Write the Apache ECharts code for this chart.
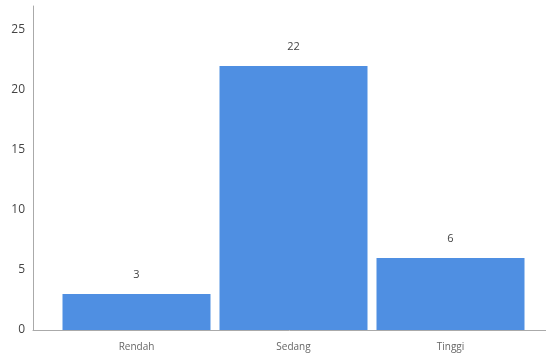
<!DOCTYPE html>
<html>
<head>
<meta charset="utf-8">
<script src="https://cdn.jsdelivr.net/npm/echarts@6/dist/echarts.min.js"></script>
<style>
  * { margin: 0; padding: 0; }
  body { background: #fff; }
</style>
</head>
<body>
<div id="chart" style="width: 546px; height: 360px;"></div>
<script>
var categories = ['Rendah', 'Sedang', 'Tinggi'];
var values = [3, 22, 6];
var yTicks = [0, 5, 10, 15, 20, 25];

var chart = echarts.init(document.getElementById('chart'));
var yMax = 27;

chart.setOption({
  animation: false,
  textStyle: { fontFamily: 'Open Sans' },
  grid: [
    // bars
    { left: 58, right: 17, top: 6, bottom: 30, containLabel: false },
    // axes frame
    { left: 33, right: 0, top: 6, bottom: 30, containLabel: false }
  ],
  xAxis: [
    {
      gridIndex: 0,
      type: 'category',
      data: categories,
      axisLine: { show: false },
      axisTick: { show: false },
      axisLabel: { color: '#666', fontSize: 10, margin: 12 }
    },
    {
      gridIndex: 1,
      type: 'value',
      min: 0, max: 1,
      axisLine: { show: true, onZero: false, lineStyle: { color: '#aaa', width: 1 } },
      axisTick: { show: false },
      axisLabel: { show: false },
      splitLine: { show: false }
    }
  ],
  yAxis: [
    {
      gridIndex: 0,
      type: 'value',
      min: 0, max: yMax,
      show: false
    },
    {
      gridIndex: 1,
      type: 'value',
      min: 0, max: yMax, interval: 5,
      axisLine: { show: true, lineStyle: { color: '#aaa', width: 1 } },
      axisTick: { show: false },
      splitLine: { show: false },
      axisLabel: {
        color: '#444', fontSize: 12, margin: 8,
        formatter: function (v) { return yTicks.indexOf(v) >= 0 ? String(v) : ''; }
      }
    }
  ],
  series: [
    {
      type: 'bar',
      xAxisIndex: 0,
      yAxisIndex: 0,
      data: values,
      barWidth: 148,
      itemStyle: { color: '#4f8fe2' },
      label: {
        show: true,
        position: 'top',
        distance: 14,
        color: '#444',
        fontSize: 11
      }
    }
  ]
});
</script>
</body>
</html>
